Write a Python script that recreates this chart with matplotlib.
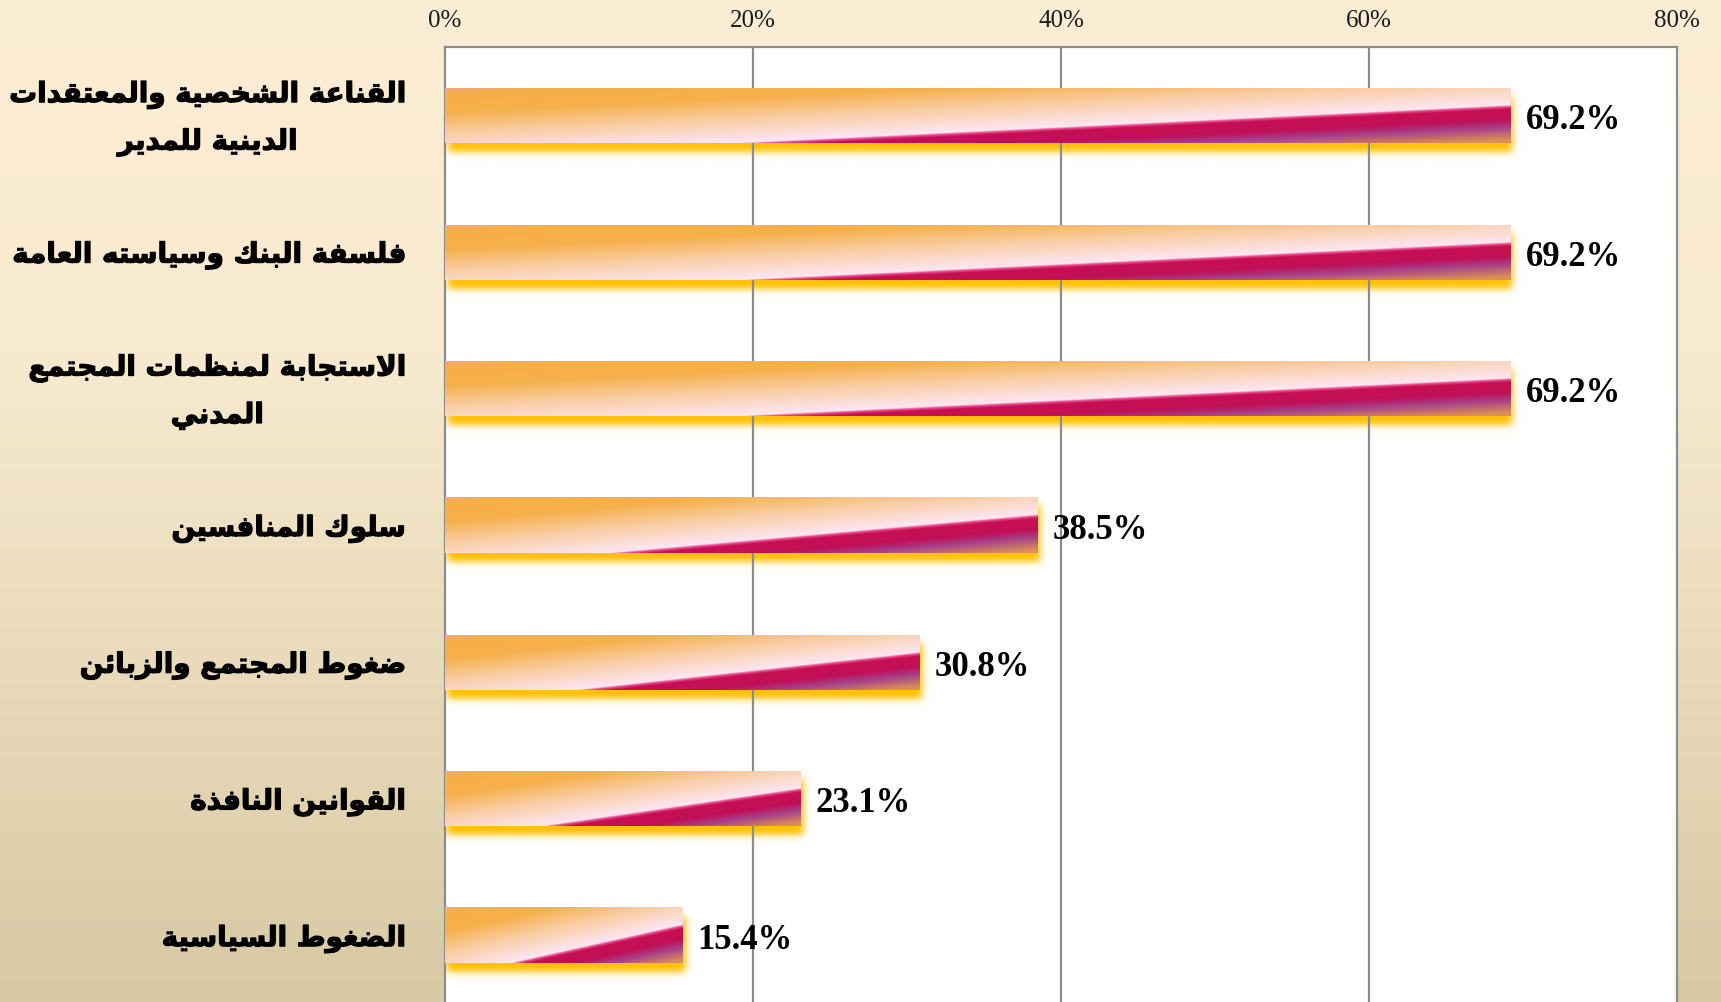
import numpy as np
import matplotlib
matplotlib.use("Agg")
import matplotlib.pyplot as plt
import matplotlib.patheffects as pe
from matplotlib.colors import to_rgb

# ---------------- data ----------------
categories = [
    "القناعة الشخصية والمعتقدات\nالدينية للمدير",
    "فلسفة البنك وسياسته العامة",
    "الاستجابة لمنظمات المجتمع\nالمدني",
    "سلوك المنافسين",
    "ضغوط المجتمع والزبائن",
    "القوانين النافذة",
    "الضغوط السياسية",
]
values = [69.2, 69.2, 69.2, 38.5, 30.8, 23.1, 15.4]
value_labels = ["69.2%", "69.2%", "69.2%", "38.5%", "30.8%", "23.1%", "15.4%"]
x_ticks = [0, 20, 40, 60, 80]
x_tick_labels = ["0%", "20%", "40%", "60%", "80%"]

# ---------------- minimal Arabic shaping ----------------
_order = [('\u0621', 1), ('\u0622', 2), ('\u0623', 2), ('\u0624', 2), ('\u0625', 2),
          ('\u0626', 4), ('\u0627', 2), ('\u0628', 4), ('\u0629', 2), ('\u062A', 4),
          ('\u062B', 4), ('\u062C', 4), ('\u062D', 4), ('\u062E', 4), ('\u062F', 2),
          ('\u0630', 2), ('\u0631', 2), ('\u0632', 2), ('\u0633', 4), ('\u0634', 4),
          ('\u0635', 4), ('\u0636', 4), ('\u0637', 4), ('\u0638', 4), ('\u0639', 4),
          ('\u063A', 4), ('\u0641', 4), ('\u0642', 4), ('\u0643', 4), ('\u0644', 4),
          ('\u0645', 4), ('\u0646', 4), ('\u0647', 4), ('\u0648', 2), ('\u0649', 2),
          ('\u064A', 4)]
FORMS = {}
_code = 0xFE80
for ch, n in _order:
    FORMS[ch] = [chr(_code + k) for k in range(n)]
    _code += n
LAM_ALEF = {'\u0622': ('\uFEF5', '\uFEF6'), '\u0623': ('\uFEF7', '\uFEF8'),
            '\u0625': ('\uFEF9', '\uFEFA'), '\u0627': ('\uFEFB', '\uFEFC')}


def shape_line(s):
    out = []
    i = 0
    n = len(s)
    while i < n:
        c = s[i]
        if c not in FORMS:
            out.append(c)
            i += 1
            continue
        prev = s[i - 1] if i > 0 else ''
        joins_prev = prev in FORMS and len(FORMS[prev]) == 4
        if c == '\u0644' and i + 1 < n and s[i + 1] in LAM_ALEF:
            iso, fin = LAM_ALEF[s[i + 1]]
            out.append(fin if joins_prev else iso)
            i += 2
            continue
        nxt = s[i + 1] if i + 1 < n else ''
        joins_next = len(FORMS[c]) == 4 and nxt in FORMS
        f = FORMS[c]
        if joins_prev and joins_next:
            g = f[3]
        elif joins_prev:
            g = f[1]
        elif joins_next:
            g = f[2]
        else:
            g = f[0]
        out.append(g)
        i += 1
    return ''.join(out)[::-1]


def shape(text):
    return '\n'.join(shape_line(l) for l in text.split('\n'))


# ---------------- figure ----------------
W, H, DPI = 1721, 1002, 100
fig = plt.figure(figsize=(W / DPI, H / DPI), dpi=DPI)

# background gradient
bg = fig.add_axes([0, 0, 1, 1], zorder=-10)
yy = np.linspace(0, 1, 400)
stops_bg = [(0.0, '#FCEDD5'), (0.35, '#F8EACF'), (1.0, '#D8C9A4')]
bg_rgb = np.zeros((400, 1, 3))
for ch in range(3):
    bg_rgb[:, 0, ch] = np.interp(yy, [p for p, _ in stops_bg], [to_rgb(c)[ch] for _, c in stops_bg])
bg.imshow(bg_rgb, aspect='auto', extent=[0, 1, 0, 1], origin='upper', interpolation='bilinear')
bg.axis('off')

ax_left, ax_right, ax_top, ax_bot = 445, 1677, 47, 1004
ax = fig.add_axes([ax_left / W, 1 - ax_bot / H, (ax_right - ax_left) / W, (ax_bot - ax_top) / H])
ax.set_facecolor('white')
ax.set_xlim(0, 80)
ax.set_ylim(len(categories) - 0.5, -0.5)

px_x = 80.0 / (ax_right - ax_left)          # data units per pixel (x)
px_y = len(categories) / (ax_bot - ax_top)   # data units per pixel (y)

grid_col = '#8C8C8C'
for xv in x_ticks[1:-1]:
    ax.axvline(xv, color=grid_col, lw=1.6, zorder=2.5)
for sp in ax.spines.values():
    sp.set_color(grid_col)
    sp.set_linewidth(1.6)
ax.spines['bottom'].set_visible(False)

ax.xaxis.tick_top()
ax.set_xticks(x_ticks)
ax.set_xticklabels(x_tick_labels, family='Liberation Serif', fontsize=18, color='#1A1A1A')
ax.tick_params(axis='x', length=0, pad=11)
ax.set_yticks([])

# bar gradient
grad_stops = [(-0.95, '#F79BC3'), (-0.84, '#F6AE48'), (-0.60, '#F6B04A'),
              (-0.32, '#F9CDA4'), (-0.10, '#FCE0DE'), (-0.015, '#FDE7F2'),
              (0.0, '#F25C9D'), (0.035, '#C70F52'), (0.17, '#C01058'),
              (0.27, '#A6408A'), (0.43, '#DA8E58')]


def bar_image(nu=400, nv=80):
    u = np.linspace(0, 1, nu)[None, :]
    v = np.linspace(0, 1, nv)[:, None]
    t = 0.67 * (u - 0.3) + 0.7 * (v - 1.0)
    img = np.zeros((nv, nu, 3))
    ts = [p for p, _ in grad_stops]
    for ch in range(3):
        img[:, :, ch] = np.interp(t, ts, [to_rgb(c)[ch] for _, c in grad_stops])
    return img


def sig(d, s):
    return 1.0 / (1.0 + np.exp(-d / s))


bar_h = 55 * px_y
yellow = np.array(to_rgb('#FFC000'))
for i, (v, lab) in enumerate(zip(values, value_labels)):
    top = i - bar_h / 2
    bot = i + bar_h / 2
    # soft yellow shadow
    sx0, sx1 = 0 + 1 * px_x, v + 3 * px_x
    sy0, sy1 = top + 8 * px_y, bot + 9 * px_y
    ex0, ex1 = 0, v + 14 * px_x
    ey0, ey1 = top, bot + 22 * px_y
    xs = np.linspace(ex0, ex1, 300)[None, :]
    ys = np.linspace(ey0, ey1, 80)[:, None]
    a = (sig(xs - sx0, 2.2 * px_x) * sig(sx1 - xs, 2.2 * px_x) *
         sig(ys - sy0, 2.2 * px_y) * sig(sy1 - ys, 2.2 * px_y))
    sh = np.zeros((80, 300, 4))
    sh[:, :, :3] = yellow
    sh[:, :, 3] = np.clip(a * 1.05, 0, 0.97)
    ax.imshow(sh, extent=(ex0, ex1, ey1, ey0), origin='upper', aspect='auto',
              interpolation='bilinear', zorder=2)
    ax.imshow(bar_image(), extent=(0, v, bot, top), origin='upper', aspect='auto',
              interpolation='bilinear', zorder=3)
    ax.text(v + 15 * px_x, i + 5 * px_y, lab, family='Liberation Serif', fontweight='bold',
            fontsize=25, va='center', ha='left', color='black', zorder=5)

for i, c in enumerate(categories):
    ax.annotate(shape(c), xy=(0, i), xycoords='data', xytext=(-39 / DPI * 72, -2.5),
                textcoords='offset points', ha='right', va='center', multialignment='center',
                family='DejaVu Sans', fontweight='bold', fontsize=20, linespacing=1.84,
                color='black', annotation_clip=False,
                path_effects=[pe.withStroke(linewidth=0.9, foreground='black')])

ax.set_aspect('auto')
ax.set_xlim(0, 80)
ax.set_ylim(len(categories) - 0.5, -0.5)

fig.savefig('out.png', dpi=DPI)
